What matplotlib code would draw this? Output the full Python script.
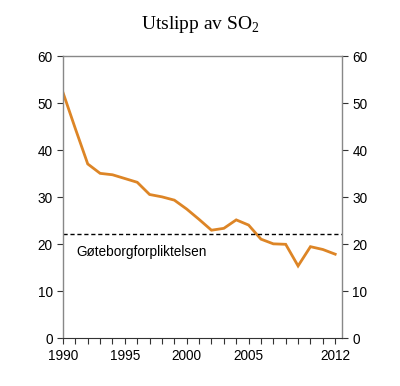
import matplotlib.pyplot as plt

# Utslipp av SO2 (1000 tonn)
years = list(range(1990, 2013))
so2 = [52.3, 44.6, 37.1, 35.1, 34.8, 34.0, 33.2, 30.6, 30.1, 29.4,
       27.5, 25.3, 23.0, 23.4, 25.2, 24.1, 21.1, 20.1, 20.0, 15.4,
       19.5, 18.9, 17.9]
target = 22.1
target_label = 'Gøteborgforpliktelsen'
xtick_years = [1990, 1995, 2000, 2005, 2012]

plt.rcParams['font.family'] = ['Liberation Sans', 'DejaVu Sans']
plt.rcParams['mathtext.fontset'] = 'custom'
plt.rcParams['mathtext.rm'] = 'Liberation Serif'

fig = plt.figure(figsize=(4.0, 3.86), dpi=100)
ax = fig.add_axes([0.1575, 0.1236, 0.6975, 0.7304])

ax.plot(years, so2, color='#DD8526', linewidth=2.0, solid_joinstyle='miter')
ax.axhline(target, color='black', linestyle=(0, (3, 2)), linewidth=1.0)
ax.text(1991.1, 18.4, target_label, fontsize=9.8, va='center', ha='left')

ax.set_xlim(1990, 2012.55)
ax.set_ylim(0, 60)
ax.set_yticks(range(0, 61, 10))
ax.set_xticks(xtick_years)
ax.set_xticks(years, minor=True)

ax.tick_params(axis='both', which='both', labelsize=9.8, length=4, width=0.8,
               color='#333333')
ax.tick_params(axis='y', right=True, labelright=True, direction='out')
ax.tick_params(axis='x', which='minor', length=4)

for side in ['left', 'right', 'top']:
    ax.spines[side].set_color('#888888')
    ax.spines[side].set_linewidth(1.0)
ax.spines['bottom'].set_color('#333333')

fig.suptitle(r'Utslipp av SO$_\mathrm{2}$', x=0.5, y=0.965, fontsize=14,
             family='Liberation Serif')

fig.savefig('out.png', dpi=100)
